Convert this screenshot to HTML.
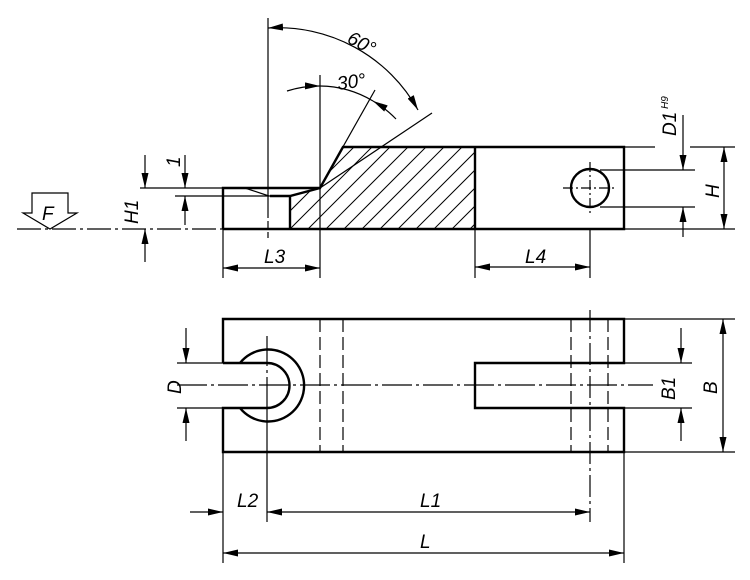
<!DOCTYPE html>
<html><head><meta charset="utf-8"><style>
html,body{margin:0;padding:0;background:#fff}
svg{display:block}
text{font-family:"Liberation Sans",sans-serif;font-style:italic;font-size:19px;fill:#000}
</style></head><body>
<svg width="750" height="580" viewBox="0 0 750 580" xmlns="http://www.w3.org/2000/svg">
<defs>
<marker id="a" viewBox="0 0 15 7" refX="15" refY="3.5" markerWidth="15" markerHeight="7" markerUnits="userSpaceOnUse" orient="auto"><path d="M0,0 L15,3.5 L0,7 z" fill="#000"/></marker>
<marker id="s" viewBox="0 0 15 7" refX="0" refY="3.5" markerWidth="15" markerHeight="7" markerUnits="userSpaceOnUse" orient="auto"><path d="M15,0 L0,3.5 L15,7 z" fill="#000"/></marker>
<clipPath id="hc"><path d="M290,196 L320,188 L343,147 L475,147 L475,229 L290,229 z"/></clipPath>
</defs>
<g stroke="#000" fill="none" stroke-width="1.2">
<line x1="17" y1="229" x2="223" y2="229" stroke-dasharray="24,4,3,4"/>
<g clip-path="url(#hc)" stroke-width="1">
<path d="M200,229 l90,-90 M218,229 l90,-90 M236,229 l90,-90 M254,229 l90,-90 M272,229 l90,-90 M290,229 l90,-90 M308,229 l90,-90 M326,229 l90,-90 M344,229 l90,-90 M362,229 l90,-90 M380,229 l90,-90 M398,229 l90,-90 M416,229 l90,-90 M434,229 l90,-90 M452,229 l90,-90 M470,229 l90,-90"/>
</g>
<g stroke-width="2.4">
<path d="M223,229 L223,188 L320,188 L343,147 L624,147 L624,229 L223,229"/>
<path d="M270,196 L290,196 L320,188"/>
<line x1="290" y1="196" x2="290" y2="229"/>
<line x1="475" y1="147" x2="475" y2="229"/>
<circle cx="590" cy="188" r="19"/>
</g>
<line x1="245" y1="188" x2="269" y2="196"/>
<line x1="268" y1="18" x2="268" y2="238" stroke-dasharray="200,3,8,3,30"/>
<line x1="320" y1="75" x2="320" y2="278"/>
<line x1="320" y1="188" x2="432" y2="113"/>
<line x1="322" y1="184" x2="375" y2="90"/>
<path d="M268,28 A160,160 0 0 1 418,110" marker-start="url(#s)" marker-end="url(#a)"/>
<path d="M287,91 A105,105 0 0 1 320,86" marker-end="url(#a)"/>
<path d="M320,86 A105,105 0 0 1 373,101"/>
<path d="M396,119 A105,105 0 0 0 373,101" marker-end="url(#a)"/>
<line x1="140" y1="188" x2="223" y2="188"/>
<line x1="175" y1="196" x2="270" y2="196"/>
<line x1="145" y1="155" x2="145" y2="188" marker-end="url(#a)"/>
<line x1="145" y1="262" x2="145" y2="229" marker-end="url(#a)"/>
<line x1="185" y1="155" x2="185" y2="188" marker-end="url(#a)"/>
<line x1="185" y1="225" x2="185" y2="196" marker-end="url(#a)"/>
<path d="M32,213 L32,193 L68,193 L68,213 L77,213 L50,229 L23,213 Z"/>
<line x1="223" y1="229" x2="223" y2="278"/>
<line x1="223" y1="268" x2="320" y2="268" marker-start="url(#s)" marker-end="url(#a)"/>
<line x1="475" y1="229" x2="475" y2="278"/>
<line x1="590" y1="229" x2="590" y2="278"/>
<line x1="475" y1="267" x2="590" y2="267" marker-start="url(#s)" marker-end="url(#a)"/>
<line x1="563" y1="188" x2="617" y2="188" stroke-dasharray="10,3,2,3"/>
<line x1="590" y1="162" x2="590" y2="214" stroke-dasharray="10,3,2,3"/>
<line x1="600" y1="170" x2="695" y2="170"/>
<line x1="600" y1="207" x2="695" y2="207"/>
<line x1="683" y1="115" x2="683" y2="170" marker-end="url(#a)"/>
<line x1="683" y1="237" x2="683" y2="207" marker-end="url(#a)"/>
<line x1="624" y1="147" x2="655" y2="147"/>
<line x1="690" y1="147" x2="735" y2="147"/>
<line x1="624" y1="229" x2="735" y2="229"/>
<line x1="724" y1="147" x2="724" y2="229" marker-start="url(#s)" marker-end="url(#a)"/>

<g stroke-width="2.4">
<path d="M223,363 L223,319 L624,319 L624,363 L475,363 L475,408 L624,408 L624,452 L223,452 L223,408 L267,408 A22.5,22.5 0 0 0 267,363 L223,363"/>
<path d="M240,363 A36,36 0 1 1 240,408"/>
</g>
<g stroke-dasharray="13,5">
<line x1="320" y1="319" x2="320" y2="452"/>
<line x1="343" y1="319" x2="343" y2="452"/>
<line x1="571" y1="319" x2="571" y2="452"/>
<line x1="608" y1="319" x2="608" y2="452"/>
</g>
<line x1="590" y1="310" x2="590" y2="522" stroke-dasharray="22,4,3,4"/>
<line x1="177" y1="385" x2="653" y2="385" stroke-dasharray="30,4,3,4"/>
<line x1="267" y1="336" x2="267" y2="522" stroke-dasharray="30,4,3,4,200"/>
<line x1="177" y1="363" x2="223" y2="363"/>
<line x1="177" y1="408" x2="223" y2="408"/>
<line x1="186" y1="328" x2="186" y2="363" marker-end="url(#a)"/>
<line x1="186" y1="441" x2="186" y2="408" marker-end="url(#a)"/>
<line x1="624" y1="363" x2="692" y2="363"/>
<line x1="624" y1="408" x2="692" y2="408"/>
<line x1="681" y1="328" x2="681" y2="363" marker-end="url(#a)"/>
<line x1="681" y1="441" x2="681" y2="408" marker-end="url(#a)"/>
<line x1="624" y1="319" x2="735" y2="319"/>
<line x1="624" y1="452" x2="735" y2="452"/>
<line x1="723" y1="319" x2="723" y2="452" marker-start="url(#s)" marker-end="url(#a)"/>
<line x1="223" y1="452" x2="223" y2="563"/>
<line x1="624" y1="452" x2="624" y2="563"/>
<line x1="190" y1="512" x2="223" y2="512" marker-end="url(#a)"/>
<line x1="267" y1="512" x2="590" y2="512" marker-start="url(#s)" marker-end="url(#a)"/>
<line x1="223" y1="553" x2="624" y2="553" marker-start="url(#s)" marker-end="url(#a)"/>
</g>
<text x="346" y="42" transform="rotate(28 346 42)">60°</text>
<text x="338" y="90" transform="rotate(-8 338 90)">30°</text>
<text x="42" y="220">F</text>
<text x="138" y="224" transform="rotate(-90 138 224)">H1</text>
<text x="180" y="167" transform="rotate(-90 180 167)">1</text>
<text x="264" y="263">L3</text>
<text x="525" y="263">L4</text>
<text x="676" y="136" transform="rotate(-90 676 136)">D1<tspan font-size="10" dy="-8"> H9</tspan></text>
<text x="719" y="198" transform="rotate(-90 719 198)">H</text>
<text x="181" y="394" transform="rotate(-90 181 394)">D</text>
<text x="675" y="400" transform="rotate(-90 675 400)">B1</text>
<text x="717" y="394" transform="rotate(-90 717 394)">B</text>
<text x="237" y="507">L2</text>
<text x="420" y="507">L1</text>
<text x="420" y="548">L</text>
</svg>
</body></html>
